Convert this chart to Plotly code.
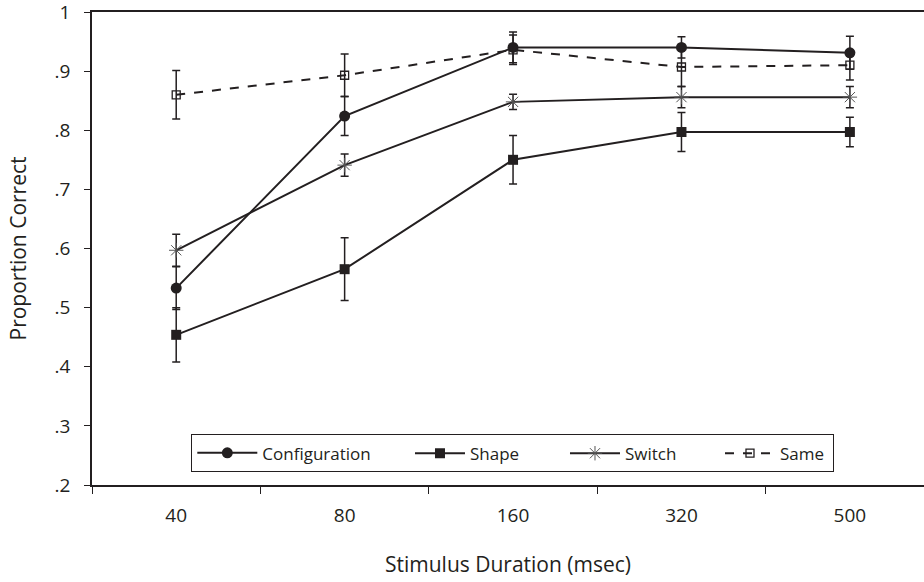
import plotly.graph_objects as go

durations = ["40", "80", "160", "320", "500"]

config_vals = [0.533, 0.824, 0.940, 0.940, 0.931]
config_err = [0.036, 0.033, 0.026, 0.018, 0.028]

shape_vals = [0.454, 0.565, 0.750, 0.797, 0.797]
shape_err = [0.046, 0.053, 0.041, 0.033, 0.025]

switch_vals = [0.597, 0.741, 0.848, 0.856, 0.856]
switch_err = [0.027, 0.019, 0.013, 0.018, 0.018]

same_vals = [0.860, 0.893, 0.936, 0.907, 0.910]
same_err = [0.041, 0.036, 0.025, 0.033, 0.025]

y_tickvals = [0.2, 0.3, 0.4, 0.5, 0.6, 0.7, 0.8, 0.9, 1.0]
y_ticktext = [".2", ".3", ".4", ".5", ".6", ".7", ".8", ".9", "1"]

INK = "#231f20"
FONT = "Open Sans"

def err(vals):
    return dict(type="data", array=vals, visible=True, color=INK, thickness=1.5, width=4)

fig = go.Figure()
fig.add_trace(go.Scatter(
    x=durations, y=config_vals, name="Configuration", mode="lines+markers",
    line=dict(color=INK, width=2),
    marker=dict(symbol="circle", size=11, color=INK),
    error_y=err(config_err), legend="legend"))
fig.add_trace(go.Scatter(
    x=durations, y=shape_vals, name="Shape", mode="lines+markers",
    line=dict(color=INK, width=2),
    marker=dict(symbol="square", size=10, color=INK),
    error_y=err(shape_err), legend="legend2"))
fig.add_trace(go.Scatter(
    x=durations, y=switch_vals, name="Switch", mode="lines+markers",
    line=dict(color=INK, width=2),
    marker=dict(symbol="asterisk-open", size=12, color="#555555",
                line=dict(color="#555555", width=1)),
    error_y=err(switch_err), legend="legend3"))
fig.add_trace(go.Scatter(
    x=durations, y=same_vals, name="Same", mode="lines+markers",
    line=dict(color=INK, width=2, dash="dash"),
    marker=dict(symbol="square-open", size=8, color=INK,
                line=dict(color=INK, width=1.3)),
    error_y=err(same_err), legend="legend4"))

LEG_Y = 0.1078
leg_font = dict(family=FONT, size=17, color=INK)

def sub_legend(x):
    return dict(orientation="h", x=x, y=LEG_Y - 0.0035, xanchor="left", yanchor="top",
                borderwidth=0, bgcolor="rgba(0,0,0,0)", font=leg_font,
                itemwidth=50)

fig.update_layout(
    width=924, height=582,
    margin=dict(l=92, r=0, t=12, b=97),
    paper_bgcolor="white", plot_bgcolor="white",
    font=dict(family=FONT, size=17, color=INK),
    showlegend=True,
    legend=dict(
        orientation="h", x=0.119, y=LEG_Y, xanchor="left", yanchor="top",
        bordercolor=INK, borderwidth=1.3, bgcolor="rgba(0,0,0,0)",
        entrywidth=565, entrywidthmode="pixels",
        font=leg_font, itemwidth=60,
    ),
    legend2=sub_legend(0.3822),
    legend3=sub_legend(0.5685),
    legend4=sub_legend(0.7548),
    xaxis=dict(
        type="category", range=[-0.5, 4.44],
        showline=True, linecolor=INK, linewidth=1.5, mirror=True,
        ticks="outside", ticklen=7, tickwidth=1.3, tickcolor=INK,
        tickson="boundaries", showgrid=False, zeroline=False,
        ticklabelstandoff=12,
        tickfont=dict(family=FONT, size=19, color=INK),
        title=dict(text="Stimulus Duration (msec)", standoff=31,
                   font=dict(family=FONT, size=21, color=INK)),
    ),
    yaxis=dict(
        range=[0.2, 1.0], tickvals=y_tickvals, ticktext=y_ticktext,
        showline=True, linecolor=INK, linewidth=1.5,
        ticks="outside", ticklen=6, tickwidth=1.3, tickcolor=INK,
        showgrid=False, zeroline=False,
        ticklabelstandoff=10, ticklabeloverflow="allow",
        tickfont=dict(family=FONT, size=19, color=INK),
        title=dict(text="Proportion Correct", standoff=22,
                   font=dict(family=FONT, size=21, color=INK)),
    ),
)

fig.write_html("out.html")
